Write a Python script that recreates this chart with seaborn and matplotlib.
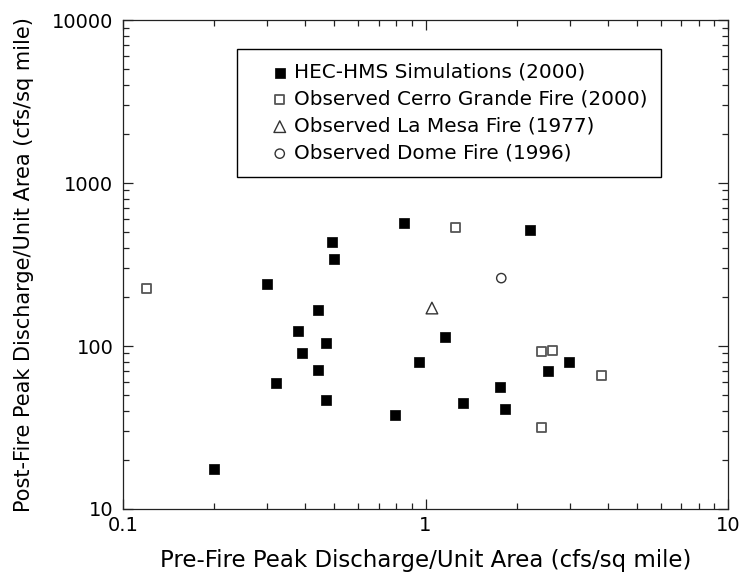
import pandas as pd
import matplotlib.pyplot as plt
import matplotlib.ticker as ticker
from matplotlib.collections import PathCollection
from matplotlib.legend_handler import HandlerPathCollection
import seaborn as sns

# values
hms_x = [0.20, 0.30, 0.32, 0.38, 0.39, 0.44, 0.44, 0.47, 0.47, 0.49, 0.50,
         0.79, 0.85, 0.95, 1.16, 1.33, 1.76, 1.83, 2.22, 2.54, 2.98]
hms_y = [17.5, 240, 59, 124, 90, 166, 71, 104, 46.5, 435, 342,
         38, 568, 80, 113, 44.5, 56, 41, 515, 70, 80]
cerro_x = [0.12, 1.26, 2.41, 2.62, 3.83, 2.41]
cerro_y = [224, 537, 93, 94.5, 66, 31.5]
lamesa_x = [1.05]
lamesa_y = [171]
dome_x = [1.78]
dome_y = [261]

labels = ['HEC-HMS Simulations (2000)',
          'Observed Cerro Grande Fire (2000)',
          'Observed La Mesa Fire (1977)',
          'Observed Dome Fire (1996)']

sns.set_style('ticks', {'xtick.direction': 'in', 'ytick.direction': 'in',
                        'text.color': 'black', 'axes.labelcolor': 'black',
                        'xtick.color': 'black', 'ytick.color': 'black',
                        'axes.edgecolor': 'black'})
plt.rcParams['font.family'] = ['DejaVu Sans']

fig, ax = plt.subplots(figsize=(7.41, 5.73), dpi=100)
fig.subplots_adjust(left=0.166, right=0.9825, top=0.965, bottom=0.1117)

#simulated peaks - filled black squares
sns.scatterplot(x=hms_x, y=hms_y, marker='s', s=50, color='black',
                edgecolor='black', linewidth=0.5, label=labels[0], ax=ax)
#observed fires - open markers
sns.scatterplot(x=cerro_x, y=cerro_y, marker='s', s=42, facecolor='none',
                edgecolor='#555555', linewidth=1.3, label=labels[1], ax=ax)
sns.scatterplot(x=lamesa_x, y=lamesa_y, marker='^', s=70, facecolor='none',
                edgecolor='#333333', linewidth=1.0, label=labels[2], ax=ax)
sns.scatterplot(x=dome_x, y=dome_y, marker='o', s=45, facecolor='none',
                edgecolor='#333333', linewidth=1.0, label=labels[3], ax=ax)

ax.set_xscale('log')
ax.set_yscale('log')
ax.set_xlim(0.1, 10)
ax.set_ylim(10, 10000)
fmt = ticker.FuncFormatter(lambda v, p: f'{v:g}')
ax.xaxis.set_major_formatter(fmt)
ax.yaxis.set_major_formatter(fmt)
ax.xaxis.set_minor_formatter(ticker.NullFormatter())
ax.yaxis.set_minor_formatter(ticker.NullFormatter())
ax.tick_params(which='both', top=True, right=True, color='#222222', width=0.9)
ax.tick_params(which='major', length=7.5, labelsize=14, labelcolor='black')
ax.tick_params(axis='y', which='major', pad=7)
ax.tick_params(axis='x', which='major', pad=5)
ax.tick_params(which='minor', length=4.2)
for sp in ax.spines.values():
    sp.set_visible(True)
    sp.set_color('#222222')
    sp.set_linewidth(0.9)

ax.set_xlabel('Pre-Fire Peak Discharge/Unit Area (cfs/sq mile)', fontsize=16.5, labelpad=10)
ax.set_ylabel('Post-Fire Peak Discharge/Unit Area (cfs/sq mile)', fontsize=15, labelpad=13)

leg = ax.legend(loc='upper left', bbox_to_anchor=(0.188, 0.941), borderaxespad=0,
                fontsize=14.4, frameon=True, fancybox=False, edgecolor='black',
                borderpad=0.7, labelspacing=0.4, handlelength=1.8, handletextpad=0.35,
                handler_map={PathCollection: HandlerPathCollection(xpad=1.1)})
leg.get_frame().set_linewidth(1.0)
leg.get_frame().set_alpha(1)
for t in leg.get_texts():
    t.set_color('black')

plt.savefig('out.png', dpi=100)
